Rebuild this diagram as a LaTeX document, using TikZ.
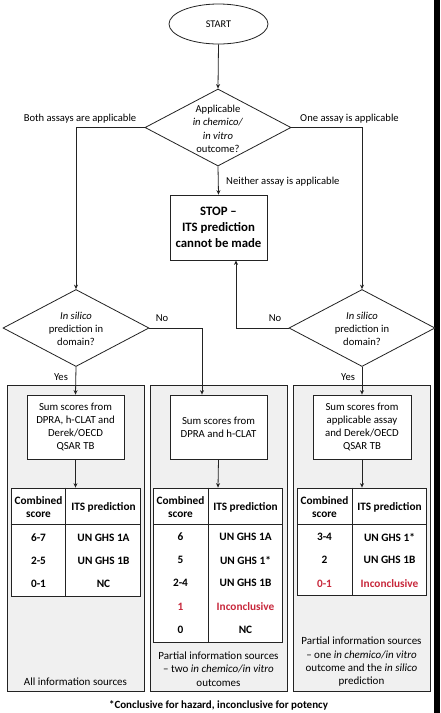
\documentclass[tikz,border=0pt]{standalone}
\usepackage{fontspec}
\setmainfont{Carlito}
\usetikzlibrary{shapes.geometric,arrows.meta,calc}
\definecolor{redtxt}{RGB}{200,40,60}
\definecolor{panelgray}{RGB}{240,240,240}
\definecolor{linecol}{RGB}{35,35,35}
\tikzset{
  conn/.style={draw=linecol,line width=0.8pt,-{Stealth[length=4.5pt,width=4pt]}},
  plain/.style={draw=linecol,line width=0.8pt},
  lbl/.style={font=\fontsize{10.6}{12}\selectfont,inner sep=0pt},
  dtext/.style={font=\fontsize{10.6}{13.3}\selectfont,align=center,inner sep=0pt},
  dia/.style={diamond,draw=linecol,line width=0.8pt,fill=white,minimum width=146pt,minimum height=77pt,inner sep=0pt},
  boxn/.style={rectangle,draw=linecol,line width=0.8pt,fill=white,minimum width=97pt,minimum height=64pt,inner sep=0pt,font=\fontsize{10.8}{13.3}\selectfont,align=center},
  panel/.style={rectangle,draw=linecol,line width=0.8pt,fill=panelgray,inner sep=0pt},
  tab/.style={rectangle,draw=linecol,line width=0.8pt,fill=white,minimum width=129pt,inner sep=0pt},
  cell/.style={font=\bfseries\fontsize{11.3}{12.5}\selectfont,inner sep=0pt,align=center},
  rcell/.style={cell,text=redtxt},
  foot/.style={font=\fontsize{11}{13.3}\selectfont,align=center,inner sep=0pt},
}
\begin{document}
\begin{tikzpicture}[x=1pt,y=-1pt]
\useasboundingbox (0,0) rectangle (440,713);
\fill[white] (0,0) rectangle (440,713);
\fill[black] (434,0) rectangle (440,713);
% panels
\node[panel,minimum width=137pt,minimum height=306pt] (p1) at (75.5,538) {};
\node[panel,minimum width=137pt,minimum height=306pt] (p2) at (218.5,538) {};
\node[panel,minimum width=137pt,minimum height=306pt] (p3) at (361.5,538) {};
% top
\node[ellipse,draw=linecol,line width=0.8pt,minimum width=99pt,minimum height=40pt,inner sep=0pt,font=\fontsize{10.3}{12}\selectfont] (start) at (218.5,24) {START};
\node[dia] (d1) at (218,127.5) {};
\node[dtext] at (218,129) {Applicable\\\textit{in chemico/}\\\textit{in vitro}\\outcome?};
\node[boxn,minimum height=65pt,font=\bfseries\fontsize{12.8}{16}\selectfont] (stop) at (218.5,227.5) {STOP –\\ITS prediction\\cannot be made};
\node[dia] (d2) at (76,328) {};
\node[dtext] at (76,329) {\textit{In silico}\\prediction in\\domain?};
\node[dia] (d3) at (362,328) {};
\node[dtext] at (362,329) {\textit{In silico}\\prediction in\\domain?};
% boxes
\node[boxn] (b1) at (75.5,427) {Sum scores from\\DPRA, h-CLAT and\\Derek/OECD\\QSAR TB};
\node[boxn] (b2) at (218.5,427) {Sum scores from\\DPRA and h-CLAT};
\node[boxn,minimum width=98pt] (b3) at (362,427) {Sum scores from\\applicable assay\\and Derek/OECD\\QSAR TB};
% tables
\node[tab,minimum height=108pt] (t1) at (75.5,542) {};
\node[tab,minimum height=154pt] (t2) at (218,565) {};
\node[tab,minimum height=107pt] (t3) at (362,541.5) {};
\foreach \t in {t1,t2,t3}{
  \draw[plain] ([yshift=-37pt]\t.north west) -- ([yshift=-37pt]\t.north east);
  \draw[plain] ([xshift=55pt]\t.north west) -- ([xshift=55pt]\t.south west);
}
% table texts t1
\node[cell] at (38.5,507) {Combined\\score};
\node[cell] at (103.5,507) {ITS prediction};
\node[cell] at (38.5,538) {6-7};
\node[cell] at (103.5,538) {UN GHS 1A};
\node[cell] at (38.5,561) {2-5};
\node[cell] at (103.5,561) {UN GHS 1B};
\node[cell] at (38.5,584) {0-1};
\node[cell] at (103.5,584) {NC};
% t2
\node[cell] at (180.5,507) {Combined\\score};
\node[cell] at (245.5,507) {ITS prediction};
\node[cell] at (180.5,537) {6};
\node[cell] at (245.5,537) {UN GHS 1A};
\node[cell] at (180.5,560) {5};
\node[cell] at (245.5,560) {UN GHS 1*};
\node[cell] at (180.5,583) {2-4};
\node[cell] at (245.5,583) {UN GHS 1B};
\node[rcell] at (180.5,607) {1};
\node[rcell] at (245.5,607) {Inconclusive};
\node[cell] at (180.5,630) {0};
\node[cell] at (245.5,630) {NC};
% t3
\node[cell] at (324.5,507) {Combined\\score};
\node[cell] at (389.5,507) {ITS prediction};
\node[cell] at (324.5,537) {3-4};
\node[cell] at (389.5,537) {UN GHS 1*};
\node[cell] at (324.5,560) {2};
\node[cell] at (389.5,560) {UN GHS 1B};
\node[rcell] at (324.5,584) {0-1};
\node[rcell] at (389.5,584) {Inconclusive};
% panel captions
\node[foot] at (75.5,682) {All information sources};
\node[foot] at (218.5,669) {Partial information sources\\– two \textit{in chemico/in vitro}\\outcomes};
\node[foot] at (361.5,662) {Partial information sources\\– one \textit{in chemico/in vitro}\\outcome and the \textit{in silico}\\prediction};
\node[foot,font=\bfseries\fontsize{11}{12}\selectfont] at (218.5,705) {*Conclusive for hazard, inconclusive for potency};
% connectors
\draw[conn] (start.south) -- (d1.north);
\draw[conn] (d1.west) -| (d2.north);
\draw[conn] (d1.east) -| (d3.north);
\draw[conn] (d1.south) -- (stop.north);
\draw[conn] (d2.east) -| ([xshift=-16.5pt]b2.north);
\draw[conn] (d3.west) -| ([xshift=17.5pt]stop.south);
\draw[conn] (d2.south) -- (b1.north);
\draw[conn] (d3.south) -- (b3.north);
\draw[conn] (b1.south) -- (t1.north);
\draw[conn] (b2.south) -- (t2.north);
\draw[conn] (b3.south) -- (t3.north);
% labels
\node[lbl] at (80,119) {Both assays are applicable};
\node[lbl] at (349.5,119) {One assay is applicable};
\node[lbl,anchor=west] at (226,182) {Neither assay is applicable};
\node[lbl] at (162,318) {No};
\node[lbl] at (275,318) {No};
\node[lbl] at (61,377) {Yes};
\node[lbl] at (348,377) {Yes};
\end{tikzpicture}
\end{document}
